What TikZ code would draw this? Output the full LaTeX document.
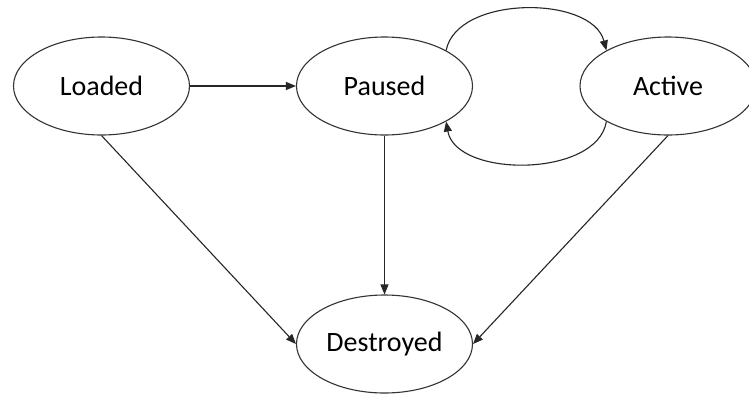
\documentclass[tikz,border=0pt]{standalone}
\usepackage{fontspec}
\setmainfont{Carlito}
\usetikzlibrary{shapes.geometric,arrows.meta}
\begin{document}
\begin{tikzpicture}[x=1pt,y=-1pt,
  state/.style={ellipse,draw=black!80,line width=1.1pt,fill=white,
    minimum width=176pt,minimum height=98pt,inner sep=0pt,
    font=\fontsize{28}{32}\selectfont},
  link/.style={draw=black!85,line width=1.1pt,
    -{Triangle[length=10pt,width=8pt]}}]
  \clip (0,0) rectangle (749,394);
  \fill[white] (0,0) rectangle (749,394);

  \node[state] (loaded)    at (101.5,86) {Loaded};
  \node[state] (paused)    at (384.5,86) {Paused};
  \node[state] (active)    at (668,86)   {Active};
  \node[state] (destroyed) at (384.5,344) {Destroyed};

  \draw[link] (loaded.east) -- (paused.west);
  \draw[link] (paused.south) -- (destroyed.north);
  \draw[link] (loaded.south) -- (destroyed.west);
  \draw[link] (active.south) -- (destroyed.east);
  \draw[link] (paused.30) .. controls (457,-5) and (592,-5) .. (active.150);
  \draw[link] (active.210) .. controls (597,178) and (456,178) .. (paused.330);
\end{tikzpicture}
\end{document}
